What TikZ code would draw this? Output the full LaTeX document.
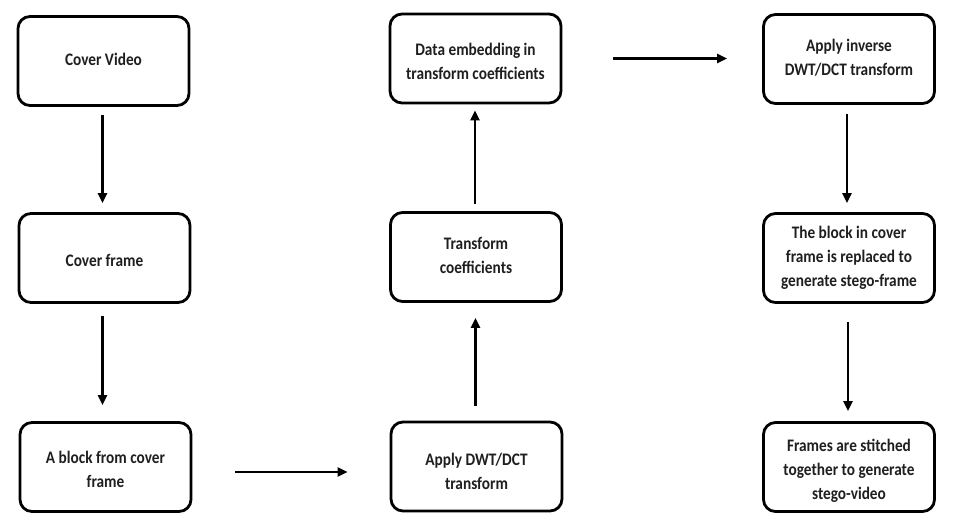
\documentclass[tikz,border=0pt]{standalone}
\usepackage{fontspec}
\setmainfont{Carlito}
\usetikzlibrary{arrows.meta}
\newcommand{\boxtxt}[2][0pt]{\raisebox{-#1}[\height][\depth]{\scalebox{1}[1.15]{\begin{tabular}{@{}c@{}}#2\end{tabular}}}}
\tikzset{
  box/.style={draw=black, line width=2.8pt, rounded corners=12pt, minimum width=171pt, minimum height=89pt, inner sep=2pt, align=center, font=\fontsize{15.3}{21}\selectfont\bfseries, text=black!88},
  flow/.style={line width=2.8pt, -{Triangle[length=10pt,width=9pt]}}
}
\begin{document}
\begin{tikzpicture}[x=1pt,y=-1pt]
\useasboundingbox[fill=white] (0,0) rectangle (958,529);
\node[box] (b1) at (103.5,61) {\boxtxt{Cover Video}};
\node[box] (b2) at (104.5,258) {\boxtxt[4pt]{Cover frame}};
\node[box] (b3) at (105.5,467) {\boxtxt[4pt]{A block from cover\\frame}};
\node[box] (b4) at (476.5,466.5) {\boxtxt[6pt]{Apply DWT/DCT\\transform}};
\node[box] (b5) at (476,257) {\boxtxt{Transform\\coefficients}};
\node[box] (b6) at (475.5,58.5) {\boxtxt[4pt]{Data embedding in\\transform coefficients}};
\node[box] (b7) at (849,59) {\boxtxt{Apply inverse\\DWT/DCT transform}};
\node[box] (b8) at (849,258) {\boxtxt{The block in cover\\frame is replaced to\\generate stego-frame}};
\node[box] (b9) at (849,467) {\boxtxt[4pt]{Frames are stitched\\together to generate\\stego-video}};
\draw[flow, shorten <=8pt, shorten >=9pt] ([xshift=-1pt]b1.south) -- ([xshift=-1pt]b1.south |- b2.north);
\draw[flow, shorten <=12pt, shorten >=16pt] ([xshift=-2pt]b2.south) -- ([xshift=-2pt]b2.south |- b3.north);
\draw[flow, shorten <=43pt, shorten >=42pt] ([yshift=-5pt]b3.east) -- ([yshift=-5pt]b3.east -| b4.west);
\draw[flow, shorten <=15pt, shorten >=15pt] ([xshift=-1pt]b4.north) -- ([xshift=-1pt]b4.north |- b5.south);
\draw[flow, shorten <=7pt, shorten >=6pt] ([xshift=-1pt]b5.north) -- ([xshift=-1pt]b5.north |- b6.south);
\draw[flow, shorten <=51pt, shorten >=35pt] (b6.east) -- (b6.east -| b7.west);
\draw[flow, shorten <=9pt, shorten >=9pt] ([xshift=-2pt]b7.south) -- ([xshift=-2pt]b7.south |- b8.north);
\draw[flow, shorten <=18pt, shorten >=10pt] ([xshift=-1pt]b8.south) -- ([xshift=-1pt]b8.south |- b9.north);
\end{tikzpicture}
\end{document}
